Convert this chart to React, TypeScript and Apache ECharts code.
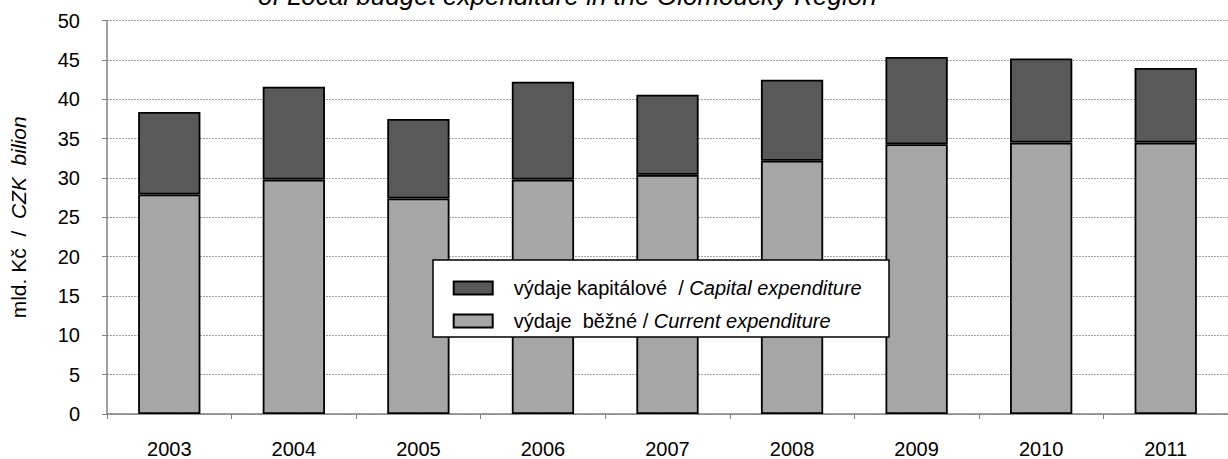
import React, { useEffect, useRef } from 'react';
import * as echarts from 'echarts';

const years = ['2003', '2004', '2005', '2006', '2007', '2008', '2009', '2010', '2011'];
const currentExp = [27.9, 29.8, 27.4, 29.8, 30.4, 32.2, 34.3, 34.5, 34.5];
const capitalExp = [10.5, 11.8, 10.1, 12.45, 10.2, 10.3, 11.1, 10.7, 9.5];
const seriesNames = ['výdaje běžné / Current expenditure', 'výdaje kapitálové / Capital expenditure'];
const legendLabels: Record<string, string> = {
  'výdaje běžné / Current expenditure': 'výdaje  běžné / {i|Current expenditure}',
  'výdaje kapitálové / Capital expenditure': 'výdaje kapitálové  / {i|Capital expenditure}',
};
const titleText = 'of Local budget expenditure in the Olomoucký Region';

const FONT = '"Liberation Sans", Arial, sans-serif';

export default function App() {
  const ref = useRef<HTMLDivElement>(null);
  useEffect(() => {
    if (!ref.current) return;
    const chart = echarts.init(ref.current, undefined, { renderer: 'svg' });
    chart.setOption({
      animation: false,
      backgroundColor: '#ffffff',
      textStyle: { fontFamily: FONT },
      grid: { left: 99, right: -9.5, top: 20.7, bottom: 44.7, containLabel: false },
      graphic: [
        {
          type: 'text',
          x: 258,
          y: -4,
          z: 10,
          style: {
            text: titleText,
            font: 'italic 26px ' + FONT,
            fill: '#000',
            verticalAlign: 'middle',
            align: 'left',
          },
        },
        {
          type: 'rect',
          z: 5,
          shape: { x: 433, y: 260, width: 456, height: 77 },
          style: { fill: '#ffffff', stroke: '#000000', lineWidth: 1.5 },
        },
      ],
      legend: {
        z: 10,
        orient: 'vertical',
        left: 452.7,
        top: 278,
        padding: 0,
        itemGap: 13,
        itemWidth: 39,
        itemHeight: 13,
        icon: 'rect',
        data: [seriesNames[1], seriesNames[0]],
        formatter: (name: string) => legendLabels[name],
        textStyle: {
          fontFamily: FONT,
          fontSize: 20,
          color: '#000',
          lineHeight: 20,
          padding: [0, 0, 0, 16],
          rich: {
            i: { fontStyle: 'italic', fontSize: 20, fontFamily: FONT, color: '#000' },
          },
        },
      },
      xAxis: {
        type: 'category',
        data: years,
        axisLine: { lineStyle: { color: '#808080', width: 1.5 } },
        axisTick: { show: true, length: 5, lineStyle: { color: '#808080', width: 1 } },
        axisLabel: { fontSize: 20, color: '#000', margin: 25, fontFamily: FONT },
        splitLine: { show: false },
      },
      yAxis: {
        type: 'value',
        min: 0,
        max: 50,
        interval: 5,
        name: '{n|mld. Kč  /  }{i|CZK  bilion}',
        nameLocation: 'middle',
        nameRotate: 90,
        nameGap: 78,
        nameTextStyle: {
          rich: {
            n: { fontSize: 21, fontFamily: FONT, color: '#000' },
            i: { fontSize: 21, fontFamily: FONT, fontStyle: 'italic', color: '#000' },
          },
        },
        axisLine: { show: true, lineStyle: { color: '#808080', width: 1.5 } },
        axisTick: { show: true, length: 5, lineStyle: { color: '#808080', width: 1 } },
        axisLabel: { fontSize: 20, color: '#000', margin: 27, fontFamily: FONT },
        splitLine: { show: true, lineStyle: { color: '#a0a0a0', type: [2, 1], width: 1 } },
      },
      series: [
        {
          name: seriesNames[0],
          type: 'bar',
          stack: 'total',
          barWidth: '50%',
          data: currentExp,
          itemStyle: { color: '#a6a6a6', borderColor: '#000', borderWidth: 1.8 },
        },
        {
          name: seriesNames[1],
          type: 'bar',
          stack: 'total',
          barWidth: '50%',
          data: capitalExp,
          itemStyle: { color: '#595959', borderColor: '#000', borderWidth: 1.8 },
        },
      ],
    });
    return () => chart.dispose();
  }, []);
  return (
    <div
      ref={ref}
      style={{ position: 'fixed', left: 0, top: 0, width: 1228, height: 459 }}
    />
  );
}
